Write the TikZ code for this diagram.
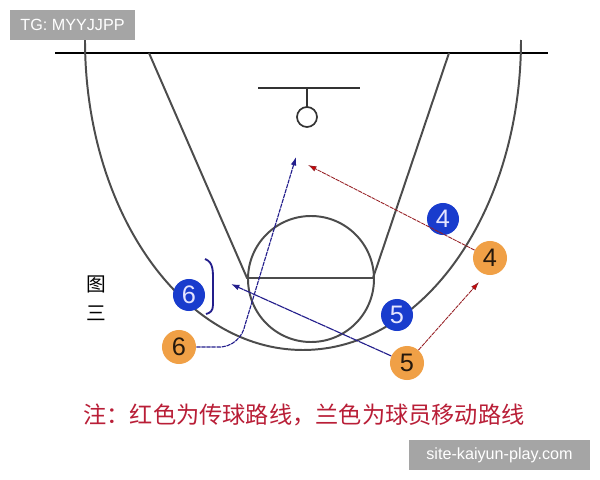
\documentclass[tikz,border=0pt]{standalone}
\usepackage{fontspec}
\setsansfont{Liberation Sans}
\newfontfamily\cjk{Noto Sans CJK SC}
\usetikzlibrary{arrows.meta}

\definecolor{OffFill}{RGB}{240,160,70}
\definecolor{DefFill}{RGB}{25,60,205}
\definecolor{PassRed}{RGB}{150,30,35}
\definecolor{MoveBlue}{RGB}{35,30,140}
\definecolor{NoteRed}{RGB}{185,30,55}
\definecolor{MarkGray}{RGB}{165,165,165}

\begin{document}
\begin{tikzpicture}[x = 0.025cm, y = -0.025cm]
        \tikzset{CourtStyle/.style = {draw = black!70, line width = 1.4pt},
          OffStyle/.style  = {circle, fill = OffFill, inner sep = 0pt,
            minimum size = 0.85cm, font = \sffamily\fontsize{18}{18}\selectfont,
            text = black!80!brown},
          DefStyle/.style  = {circle, fill = DefFill, inner sep = 0pt,
            minimum size = 0.8cm, font = \sffamily\fontsize{18}{18}\selectfont,
            text = blue!10},
          PassStyle/.style = {draw = PassRed, line width = 0.6pt,
            dash pattern = on 3pt off 0.6pt,
            -{Latex[length = 6pt, width = 4pt, fill = red!85!black]}},
          MoveStyle/.style = {draw = MoveBlue, line width = 0.8pt,
            dash pattern = on 3pt off 0.6pt,
            -{Latex[length = 6pt, width = 4pt]}},
          MarkStyle/.style = {fill = MarkGray, text = white, inner sep = 0pt,
            minimum height = 0.75cm, font = \sffamily\fontsize{11.5}{12}\selectfont}}
        \fill[white] (0,0) rectangle (600,480);
        \useasboundingbox (0,0) rectangle (600,480);
        % court
        \draw[black, line width = 1.5pt] (55,53) -- (548,53);
        \draw[CourtStyle] (85,40) arc[start angle = 180, end angle = 0,
          x radius = 218, y radius = 310];
        \draw[CourtStyle] (149,53) -- (247,278) -- (373,278) -- (449,53);
        \draw[CourtStyle] (311,279) circle[radius = 63];
        \draw[black!80, line width = 1.6pt] (258,88) -- (360,88);
        \draw[black!80, line width = 1.2pt] (307,88) -- (307,107);
        \draw[black!80, line width = 1.2pt] (307,117) circle[radius = 10];
        % players
        \node[OffStyle] (OFd) at (490,258) {4};
        \node[DefStyle] (DFd) at (443,219) {4};
        \node[OffStyle] (OFe) at (407,363) {5};
        \node[DefStyle] (DFe) at (397,315) {5};
        \node[OffStyle] (OFf) at (179,347) {6};
        \node[DefStyle] (DFf) at (189,295) {6};
        \coordinate (PassA) at (308,165);
        \coordinate (PassB) at (479,282);
        \coordinate (CutA)  at (231,284);
        \coordinate (CutB)  at (296,157);
        % passes and cuts
        \draw[PassStyle] (OFd) -- (PassA);
        \draw[PassStyle] (OFe) -- (PassB);
        \draw[MoveStyle, dash pattern = on 6pt off 0.4pt] (OFe) -- (CutA);
        \draw[MoveStyle] (OFf) -- (217,347) .. controls (233,348) and (243,336) .. (245,325) -- (CutB);
        \draw[MoveBlue, line width = 1.3pt] (205,259) .. controls (213,262) and (213,270) .. (213,280)
          -- (213,305) .. controls (213,311) and (210,313) .. (206,314);
        % texts
        \node[font = \cjk\fontsize{14}{21}\selectfont, align = center] (FigNo) at (96,298) {图\\三};
        \node[font = \cjk\fontsize{16.5}{17}\selectfont, text = NoteRed] (Note) at (304,415)
          {注：红色为传球路线，兰色为球员移动路线};
        \node[MarkStyle, minimum width = 3.125cm] (TagA) at (72.5,25) {TG: MYYJJPP};
        \node[MarkStyle, minimum width = 4.525cm] (TagB) at (499.5,455) {site-kaiyun-play.com};
      \end{tikzpicture}
\end{document}
